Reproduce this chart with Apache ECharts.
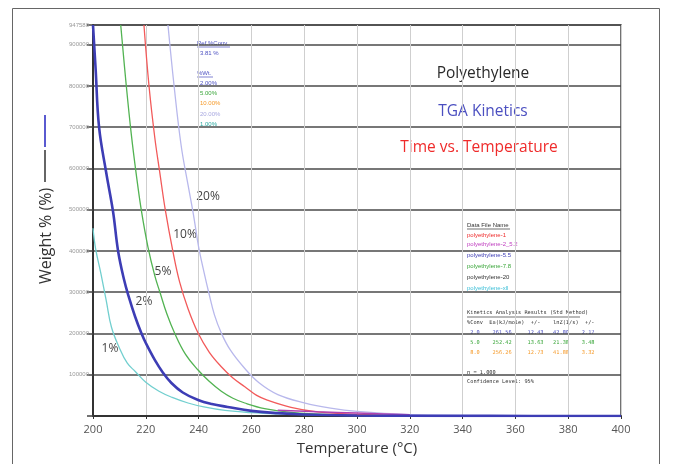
<!DOCTYPE html>
<html>
<head>
<meta charset="utf-8">
<script src="https://cdn.jsdelivr.net/npm/echarts@6/dist/echarts.min.js"></script>
<style>
html,body{margin:0;padding:0;background:#fff;}
#chart{width:673px;height:464px;}
</style>
</head>
<body>
<div id="chart"></div>
<script>
// ---- data ----
const xTicks = [200, 220, 240, 260, 280, 300, 320, 340, 360, 380, 400];
const yMax = 947580;

const t1 = [200, 201, 203, 205, 207, 210, 213, 216, 220, 225, 230, 236, 242, 250, 260, 270, 285, 300, 330, 400];
const v1 = [455000, 405000, 345000, 280000, 215000, 165000, 128000, 108000, 82000, 60000, 45000, 31500, 22000, 13500, 8000, 5000, 2500, 1200, 300, 0];

const t2 = [200, 201, 202.3, 205, 207.6, 209.5, 211.7, 213.5, 216, 218.3, 220, 223.4, 226.5, 229.7, 234, 239.8, 245, 251, 260, 270, 280, 300, 320, 350, 400];
const v2 = [947580, 840000, 700000, 590000, 495000, 400000, 332000, 290000, 240000, 201000, 177000, 136000, 105000, 80000, 57000, 38700, 29000, 22000, 12500, 7000, 3800, 1300, 500, 200, 0];

const t5 = [210.5, 212.6, 214.5, 216.4, 218.3, 220.8, 223.4, 225.3, 228, 230.9, 235, 239.8, 244, 248.6, 253, 257.5, 265, 275, 290, 310, 340, 400];
const v5 = [947580, 801000, 683000, 585000, 498800, 410000, 340000, 301000, 247000, 201000, 150000, 111400, 84000, 60000, 43000, 31500, 18000, 9000, 3500, 1200, 300, 0];

const t10 = [219.3, 221.2, 223.4, 225.3, 227.4, 230.3, 232.8, 236, 239.8, 244, 248.6, 253, 257.5, 262, 266, 275, 285, 300, 320, 350, 400];
const v10 = [947580, 801000, 675000, 590000, 498800, 397800, 325000, 260000, 201000, 155000, 119400, 92000, 71000, 50000, 38700, 21000, 10000, 4000, 1200, 300, 0];

const t20 = [228.4, 230.7, 233.4, 236, 238, 240, 242, 244, 246, 248.6, 252, 257.5, 263, 270, 280, 290, 300, 320, 350, 400];
const v20 = [947580, 801000, 655000, 560000, 490000, 410000, 350000, 295000, 245000, 201000, 160000, 115000, 80000, 52000, 32000, 19000, 11000, 3500, 600, 0];

const tM = [270, 285, 300, 310, 320];
const vM = [14000, 10000, 7000, 5000, 3000];

const curveLabels = ['1%', '2%', '5%', '10%', '20%'];
const convLabels = ['2.00%', '5.00%', '10.00%', '20.00%', '1.00%'];
const fileNames = ['polyethylene-1', 'polyethylene-2_5.2', 'polyethylene-5.5', 'polyethylene-7.8', 'polyethylene-20', 'polyethylene-xll'];
const kinHeader = '%Conv  Ea(kJ/mole)  +/-    lnZ(1/s)  +/-';
const kinRows = [
  ' 2.0    261.56     12.43   42.80    2.17',
  ' 5.0    252.42     13.63   21.38    3.48',
  ' 8.0    256.26     12.73   41.88    3.32'
];

function pairs(t, v){ return t.map((x, i) => [x, v[i]]); }

const chart = echarts.init(document.getElementById('chart'));

function line(name, t, v, color, width){
  return {
    name: name, type: 'line', data: pairs(t, v), showSymbol: false, symbol: 'none',
    smooth: 0.4, clip: true,
    lineStyle: {color: color, width: width}, z: width > 2 ? 4 : 3
  };
}

const tiny = 'Liberation Sans';
const g = [];
// outer frame
g.push({type:'rect', shape:{x:12.5, y:8.5, width:647, height:470}, style:{fill:'none', stroke:'#666', lineWidth:1}, silent:true});
// y-axis title with legend-like dash
g.push({type:'text', x:46, y:236, rotation:Math.PI/2, style:{text:'Weight % (%)', font:'16px "Open Sans"', fill:'#333', align:'center', verticalAlign:'middle'}});
g.push({type:'line', shape:{x1:45, y1:182, x2:45, y2:150}, style:{stroke:'#333', lineWidth:1.5}});
g.push({type:'line', shape:{x1:45, y1:147, x2:45, y2:115}, style:{stroke:'#5a5ad0', lineWidth:2}});
// titles
g.push({type:'text', x:483, y:74, style:{text:'Polyethylene', font:'15.5px "Open Sans"', fill:'#2a2a2a', align:'center', verticalAlign:'middle'}});
g.push({type:'text', x:483, y:112, style:{text:'TGA Kinetics', font:'15.5px "Open Sans"', fill:'#4b4fc0', align:'center', verticalAlign:'middle'}});
g.push({type:'text', x:479, y:148, style:{text:'Time vs. Temperature', font:'15.5px "Open Sans"', fill:'#ef2b2b', align:'center', verticalAlign:'middle'}});
// curve labels
const clPos = [[110,349],[144,302],[163,272],[185,235],[208,197]];
curveLabels.forEach((s, i) => g.push({type:'text', x:clPos[i][0], y:clPos[i][1], style:{text:s, font:'12px "Open Sans"', fill:'#444', align:'center', verticalAlign:'middle'}}));
// conversion annotation block
g.push({type:'text', x:197, y:43, style:{text:'Ref.%Conv.', font:'6px ' + tiny, fill:'#4b4fc0', verticalAlign:'middle'}});
g.push({type:'line', shape:{x1:197, y1:47, x2:230, y2:47}, style:{stroke:'#4b4fc0', lineWidth:0.7}});
g.push({type:'text', x:200, y:53, style:{text:'3.81 %', font:'6px ' + tiny, fill:'#4b4fc0', verticalAlign:'middle'}});
g.push({type:'text', x:197, y:73, style:{text:'%Wt.', font:'6px ' + tiny, fill:'#4b4fc0', verticalAlign:'middle'}});
g.push({type:'line', shape:{x1:197, y1:77, x2:213, y2:77}, style:{stroke:'#4b4fc0', lineWidth:0.7}});
const convColors = ['#4b4fc0', '#3aa63a', '#f59a2a', '#a8a8e0', '#2aa8a0'];
convLabels.forEach((s, i) => g.push({type:'text', x:200, y:83 + i * 10.3, style:{text:s, font:'6px ' + tiny, fill:convColors[i], verticalAlign:'middle'}}));
// data file legend
g.push({type:'text', x:467, y:225, style:{text:'Data File Name', font:'6px ' + tiny, fill:'#333', verticalAlign:'middle'}});
g.push({type:'line', shape:{x1:467, y1:229, x2:510, y2:229}, style:{stroke:'#333', lineWidth:0.7}});
const fileColors = ['#ef2b2b', '#c040c0', '#3d3db5', '#3aa63a', '#333333', '#40c0d8'];
const fileY = [235, 244, 255, 266, 277, 288];
fileNames.forEach((s, i) => g.push({type:'text', x:467, y:fileY[i], style:{text:s, font:'6px ' + tiny, fill:fileColors[i], verticalAlign:'middle'}}));
// kinetics results
const mono = '5.3px "DejaVu Sans Mono"';
g.push({type:'text', x:467, y:313, style:{text:'Kinetics Analysis Results (Std Method)', font:mono, fill:'#333', verticalAlign:'middle'}});
g.push({type:'line', shape:{x1:467, y1:317, x2:580, y2:317}, style:{stroke:'#333', lineWidth:0.7}});
g.push({type:'text', x:467, y:323, style:{text:kinHeader, font:mono, fill:'#333', verticalAlign:'middle'}});
const kinColors = ['#4b4fc0', '#3aa63a', '#f59a2a'];
kinRows.forEach((s, i) => g.push({type:'text', x:467, y:333 + i * 10, style:{text:s, font:mono, fill:kinColors[i], verticalAlign:'middle'}}));
g.push({type:'text', x:467, y:373, style:{text:'n = 1.000', font:mono, fill:'#333', verticalAlign:'middle'}});
g.push({type:'text', x:467, y:382, style:{text:'Confidence Level: 95%', font:mono, fill:'#333', verticalAlign:'middle'}});

chart.setOption({
  animation: false,
  backgroundColor: '#fff',
  grid: {left: 93, top: 25, width: 528, height: 391, show: true, borderColor: '#444', borderWidth: 1.5, backgroundColor: 'transparent'},
  xAxis: {
    type: 'value', min: xTicks[0], max: xTicks[xTicks.length - 1], interval: 20,
    name: 'Temperature (°C)', nameLocation: 'middle', nameGap: 25,
    nameTextStyle: {fontFamily: 'Open Sans', fontSize: 15, color: '#333'},
    axisLine: {show: true, lineStyle: {color: '#333', width: 2}},
    axisTick: {show: true, length: 3, lineStyle: {color: '#333'}},
    axisLabel: {fontFamily: 'Open Sans', fontSize: 11, color: '#555', margin: 8},
    splitLine: {show: true, lineStyle: {color: '#cfcfcf', width: 1}}
  },
  yAxis: {
    type: 'value', min: 0, max: yMax, interval: 100000,
    axisLine: {show: true, lineStyle: {color: '#333', width: 2}},
    axisTick: {show: true, length: 6, lineStyle: {color: '#444', width: 1.5}},
    axisLabel: {fontFamily: tiny, fontSize: 6, color: '#999', margin: 4, formatter: v => v === 0 ? '' : String(v)},
    splitLine: {show: true, lineStyle: {color: '#4a4a4a', width: 1.5}}
  },
  series: [
    line('1%', t1, v1, '#72cfcf', 1.3),
    line('2%', t2, v2, '#3d3db5', 2.6),
    line('5%', t5, v5, '#52b352', 1.3),
    line('10%', t10, v10, '#f25a5a', 1.3),
    line('20%', t20, v20, '#b8b8ec', 1.3),
    line('m', tM, vM, '#b040b0', 1.5)
  ],
  graphic: g
});
</script>
</body>
</html>
